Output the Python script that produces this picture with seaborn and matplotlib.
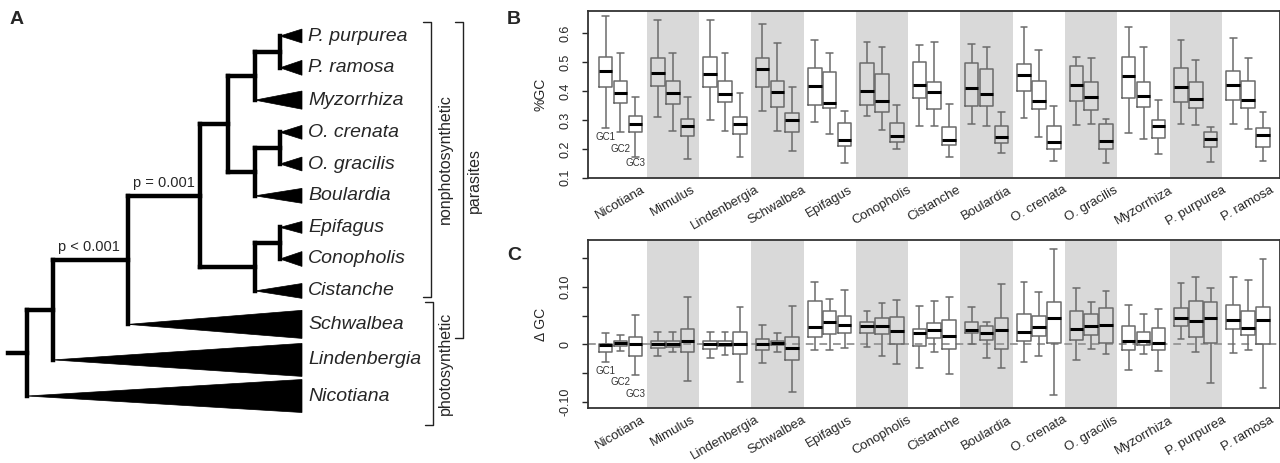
import numpy as np
import pandas as pd
import matplotlib
matplotlib.use('Agg')
import matplotlib.pyplot as plt
import seaborn as sns
from matplotlib.patches import Polygon
from matplotlib.transforms import ScaledTranslation

# ---------------- data ----------------
species = ["Nicotiana", "Mimulus", "Lindenbergia", "Schwalbea", "Epifagus",
           "Conopholis", "Cistanche", "Boulardia", "O. crenata", "O. gracilis",
           "Myzorrhiza", "P. purpurea", "P. ramosa"]
positions = ["GC1", "GC2", "GC3"]

# five-number summaries (min, q1, median, q3, max), one per species
b_gc1 = [(0.271, 0.413, 0.471, 0.519, 0.658), (0.309, 0.419, 0.461, 0.513, 0.646),
         (0.300, 0.415, 0.459, 0.519, 0.646), (0.332, 0.415, 0.475, 0.513, 0.632),
         (0.292, 0.352, 0.416, 0.479, 0.575), (0.314, 0.352, 0.401, 0.496, 0.568),
         (0.280, 0.375, 0.421, 0.502, 0.560), (0.287, 0.348, 0.411, 0.498, 0.564),
         (0.306, 0.400, 0.456, 0.494, 0.620), (0.281, 0.367, 0.421, 0.485, 0.517),
         (0.254, 0.377, 0.452, 0.519, 0.620), (0.285, 0.363, 0.413, 0.481, 0.577),
         (0.287, 0.369, 0.420, 0.471, 0.583)]
b_gc2 = [(0.259, 0.360, 0.392, 0.436, 0.533), (0.261, 0.355, 0.393, 0.434, 0.533),
         (0.261, 0.361, 0.391, 0.434, 0.533), (0.261, 0.346, 0.396, 0.436, 0.565),
         (0.250, 0.340, 0.357, 0.467, 0.531), (0.265, 0.326, 0.366, 0.459, 0.553),
         (0.280, 0.338, 0.396, 0.433, 0.568), (0.280, 0.348, 0.389, 0.476, 0.553),
         (0.240, 0.337, 0.364, 0.435, 0.541), (0.285, 0.334, 0.379, 0.433, 0.513),
         (0.234, 0.344, 0.382, 0.431, 0.553), (0.284, 0.341, 0.373, 0.431, 0.509),
         (0.269, 0.340, 0.368, 0.436, 0.516)]
b_gc3 = [(0.173, 0.257, 0.287, 0.315, 0.379), (0.164, 0.244, 0.279, 0.303, 0.379),
         (0.173, 0.251, 0.287, 0.311, 0.394), (0.192, 0.259, 0.299, 0.325, 0.415),
         (0.152, 0.209, 0.230, 0.288, 0.332), (0.199, 0.225, 0.244, 0.291, 0.353),
         (0.172, 0.213, 0.230, 0.277, 0.354), (0.187, 0.219, 0.240, 0.278, 0.329),
         (0.159, 0.199, 0.222, 0.280, 0.347), (0.150, 0.200, 0.226, 0.285, 0.304),
         (0.182, 0.236, 0.279, 0.301, 0.368), (0.154, 0.207, 0.235, 0.258, 0.277),
         (0.157, 0.206, 0.248, 0.271, 0.329)]

c_gc1 = [(-0.030, -0.013, -0.002, 0.001, 0.019), (-0.020, -0.006, 0.001, 0.005, 0.021),
         (-0.024, -0.008, 0.001, 0.005, 0.022), (-0.032, -0.009, 0.001, 0.009, 0.034),
         (-0.010, 0.012, 0.030, 0.076, 0.108), (-0.005, 0.020, 0.032, 0.039, 0.057),
         (-0.041, -0.003, 0.019, 0.027, 0.067), (0.000, 0.019, 0.025, 0.039, 0.065),
         (-0.030, 0.005, 0.021, 0.053, 0.108), (-0.028, 0.007, 0.026, 0.058, 0.097),
         (-0.044, -0.009, 0.006, 0.032, 0.068), (0.009, 0.032, 0.045, 0.063, 0.107),
         (-0.015, 0.027, 0.043, 0.068, 0.117)]
c_gc2 = [(-0.012, -0.003, 0.002, 0.006, 0.016), (-0.014, -0.004, 0.001, 0.006, 0.021),
         (-0.019, -0.003, 0.001, 0.006, 0.022), (-0.013, -0.001, 0.002, 0.006, 0.020),
         (-0.010, 0.018, 0.039, 0.057, 0.078), (-0.020, 0.018, 0.032, 0.045, 0.072),
         (-0.014, 0.011, 0.025, 0.037, 0.076), (-0.024, 0.008, 0.020, 0.031, 0.038),
         (-0.021, 0.015, 0.030, 0.049, 0.090), (-0.008, 0.016, 0.032, 0.052, 0.074),
         (-0.016, -0.001, 0.005, 0.021, 0.052), (-0.013, 0.013, 0.041, 0.075, 0.117),
         (-0.010, 0.016, 0.028, 0.057, 0.111)]
c_gc3 = [(-0.054, -0.020, 0.000, 0.012, 0.051), (-0.063, -0.013, 0.006, 0.026, 0.082),
         (-0.066, -0.017, 0.000, 0.022, 0.065), (-0.082, -0.028, -0.007, 0.012, 0.067),
         (-0.006, 0.020, 0.033, 0.049, 0.094), (-0.034, 0.001, 0.023, 0.048, 0.077),
         (-0.052, -0.008, 0.014, 0.042, 0.082), (-0.041, -0.008, 0.025, 0.045, 0.105),
         (-0.088, 0.003, 0.045, 0.074, 0.166), (-0.016, 0.002, 0.033, 0.063, 0.092),
         (-0.047, -0.009, 0.003, 0.028, 0.061), (-0.067, 0.003, 0.046, 0.073, 0.097),
         (-0.075, 0.001, 0.043, 0.065, 0.148)]

# tree: tips top to bottom, collapsed clade sizes (in tip units), node depths
tip_names = ["P. purpurea", "P. ramosa", "Myzorrhiza", "O. crenata", "O. gracilis",
             "Boulardia", "Epifagus", "Conopholis", "Cistanche", "Schwalbea",
             "Lindenbergia", "Nicotiana"]
clade_span = [0.42, 0.45, 0.55, 0.42, 0.42, 0.45, 0.36, 0.45, 0.45, 0.85, 1.0, 1.0]
tip_depth = 275
tree = ("root", 0, [
    ("n1", 26, [
        ("n2", 101, [
            ("n3", 173, [
                ("n4", 201, [
                    ("n6", 228, [("n8", 253, ["P. purpurea", "P. ramosa"]), "Myzorrhiza"]),
                    ("n7", 228, [("n9", 253, ["O. crenata", "O. gracilis"]), "Boulardia"]),
                ]),
                ("n5", 228, [("n10", 253, ["Epifagus", "Conopholis"]), "Cistanche"]),
            ]),
            "Schwalbea"]),
        "Lindenbergia"]),
    "Nicotiana"])
node_pvalues = {"n2": "p < 0.001", "n3": "p = 0.001"}
bracket_groups = [("nonphotosynthetic", "P. purpurea", "Cistanche"),
                  ("photosynthetic", "Schwalbea", "Nicotiana"),
                  ("parasites", "P. purpurea", "Schwalbea")]


def long_table(*series):
    rows = []
    for pos, summaries in zip(positions, series):
        for sp, five in zip(species, summaries):
            for v in five:
                rows.append((sp, pos, v))
    return pd.DataFrame(rows, columns=["species", "pos", "value"])


sns.set_style("ticks")
plt.rcParams['font.family'] = ['Liberation Sans', 'DejaVu Sans']
plt.rcParams['axes.unicode_minus'] = False

fig = plt.figure(figsize=(12.8, 4.63), dpi=100)

# ---------------- panel A: tree ----------------
ax_t = fig.add_axes([0, 0, 505 / 1280, 1])
ax_t.set_xlim(-27, 478)
ax_t.set_ylim(427 / 33, -36 / 33)
ax_t.axis('off')

span = np.array(clade_span)
tip_y = dict(zip(tip_names, np.concatenate([[0], np.cumsum(0.864 + 0.23 * (span[:-1] + span[1:]) / 2)])))
span_of = dict(zip(tip_names, clade_span))
lw_tree = 3.2


def draw_node(node, parent_depth=None):
    if isinstance(node, str):
        return tip_y[node]
    name, depth, kids = node
    ys = []
    for kid in kids:
        ky = draw_node(kid, depth)
        ys.append(ky)
        if isinstance(kid, str):
            s = span_of[kid] / 2
            ax_t.add_patch(Polygon([(depth, ky), (tip_depth, ky - s), (tip_depth, ky + s)],
                                   closed=True, facecolor='black', edgecolor='black', lw=0.5))
            ax_t.text(tip_depth + 6, ky, kid, style='italic', fontsize=14, va='center', ha='left')
        else:
            ax_t.plot([depth, kid[1]], [ky, ky], color='black', lw=lw_tree, solid_capstyle='projecting')
            if kid[0] in node_pvalues:
                ax_t.annotate(node_pvalues[kid[0]], xy=(depth, ky), xytext=(3.5, 4),
                              textcoords='offset points', ha='left', va='bottom', fontsize=10.5)
    ax_t.plot([depth, depth], [min(ys), max(ys)], color='black', lw=lw_tree, solid_capstyle='projecting')
    return float(np.mean(ys))


root_y = draw_node(tree)
ax_t.plot([-19, 0], [root_y, root_y], color='black', lw=lw_tree, solid_capstyle='projecting')

px = 1 / 33
bracket_style = {"nonphotosynthetic": (404, 418, -14 * px, 6 * px),
                 "photosynthetic": (406, 418, -22 * px, 29 * px),
                 "parasites": (436, 447, -14 * px, 14 * px)}
for label, first, last in bracket_groups:
    bx, tx, pad0, pad1 = bracket_style[label]
    y0, y1 = tip_y[first] + pad0, tip_y[last] + pad1
    ax_t.plot([bx - 8, bx, bx, bx - 8], [y0, y0, y1, y1], color='#222222', lw=1)
    ax_t.text(tx, (y0 + y1) / 2, label, rotation=90, ha='center', va='center', fontsize=11.5)

# ---------------- panels B and C: boxplots ----------------
ax_b = fig.add_axes([588 / 1280, 1 - 178.3 / 463, 691.5 / 1280, 167.3 / 463])
ax_c = fig.add_axes([588 / 1280, 1 - 408.3 / 463, 691.5 / 1280, 168.3 / 463])

box_width = 0.855
pal = {p: "#6b6b6b" for p in positions}

for ax, df, ylim, ylab, lab_y in [
        (ax_b, long_table(b_gc1, b_gc2, b_gc3), (0.098, 0.677), "%GC", [0.242, 0.201, 0.150]),
        (ax_c, long_table(c_gc1, c_gc2, c_gc3), (-0.111, 0.181), "\u0394 GC", [-0.046, -0.066, -0.087])]:
    if ax is ax_c:
        ax.axhline(0, color='#9a9a9a', lw=1.4, ls=(0, (4, 3)), zorder=1)
    sns.boxplot(data=df, x="species", y="value", hue="pos", order=species, hue_order=positions,
                whis=(0, 100), width=box_width, gap=0.09, fill=False, palette=pal,
                linewidth=1.1, medianprops=dict(color="black", linewidth=2.2),
                legend=False, ax=ax)
    for c in ax.containers:
        for m in c.medians:
            m.set_color('black')
            m.set_linewidth(2.2)
    for i in range(1, len(species), 2):
        ax.axvspan(i - 0.5, i + 0.5, color='#d9d9d9', lw=0, zorder=0)
    ax.set_xlim(-0.62, 12.6)
    ax.set_ylim(*ylim)
    ax.set_xlabel("")
    ax.set_ylabel(ylab, fontsize=10)
    ax.yaxis.set_label_coords(-0.058, 0.5)
    ax.set_xticks(range(len(species)))
    ax.set_xticklabels(species, rotation=30, ha='center', fontsize=9.5)
    offset = ScaledTranslation(-7 / 100, 0, fig.dpi_scale_trans)
    for lbl in ax.get_xticklabels():
        lbl.set_transform(lbl.get_transform() + offset)
    ax.tick_params(axis='x', length=0, pad=4)
    ax.tick_params(axis='y', length=4, width=1, pad=8, labelsize=9, labelrotation=90)
    for sp in ax.spines.values():
        sp.set_color('#333333')
        sp.set_linewidth(1.3)
    for k, pos in enumerate(positions):
        ax.text((k - 1) * box_width / 3, lab_y[k], pos, ha='center', va='center',
                fontsize=7, color='#333333')

ax_b.set_yticks([0.1, 0.2, 0.3, 0.4, 0.5, 0.6])
ax_b.set_yticklabels(["0.1", "0.2", "0.3", "0.4", "0.5", "0.6"])
ax_c.set_yticks([-0.10, -0.05, 0, 0.05, 0.10, 0.15])
ax_c.set_yticklabels(["-0.10", "", "0", "", "0.10", ""])
for ax in (ax_b, ax_c):
    for lbl in ax.get_yticklabels():
        lbl.set_va('center')

fig.text(10 / 1280, 1 - 19 / 463, "A", fontsize=14, fontweight='bold', va='center')
fig.text(507 / 1280, 1 - 19 / 463, "B", fontsize=14, fontweight='bold', va='center')
fig.text(507 / 1280, 1 - 255 / 463, "C", fontsize=14, fontweight='bold', va='center')

fig.savefig("out.png", dpi=100)
